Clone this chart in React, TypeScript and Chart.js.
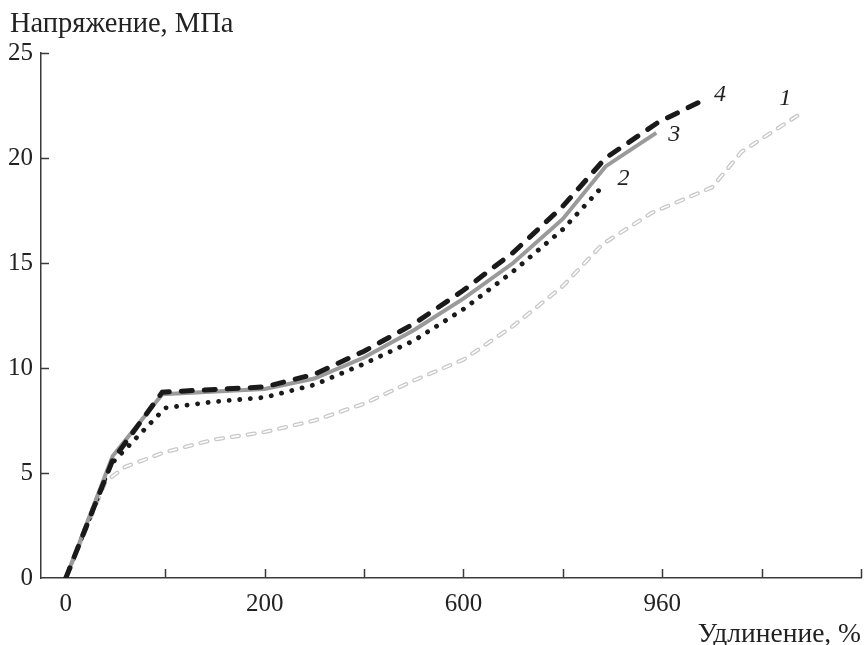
import React, { useEffect, useRef } from "react";
import { Chart, registerables } from "chart.js";

Chart.register(...registerables);

// X positions are in tick-index units (axis ticks 0..8, some labelled)
const xTickValues = [0, 1, 2, 3, 4, 5, 6, 7, 8];
const xTickLabels = ["0", "", "200", "", "600", "", "960", "", ""];
const yTickValues = [0, 5, 10, 15, 20, 25];

const yTitle = "Напряжение, МПа";
const xTitle = "Удлинение, %";

// Curve 1 (light hollow dashes)
const s1x = [0, 0.4, 0.6, 1, 1.5, 2, 2.5, 3, 3.5, 4, 4.5, 5, 5.4, 5.9, 6.5, 6.8, 7.42];
const s1y = [0, 4.6, 5.3, 6.0, 6.6, 6.95, 7.5, 8.3, 9.4, 10.4, 12.0, 13.9, 15.9, 17.4, 18.6, 20.3, 22.2];
// Curve 2 (black dotted)
const s2x = [0, 0.45, 1, 1.5, 2, 2.5, 3, 3.5, 4, 4.5, 5, 5.39];
const s2y = [0, 5.4, 8.1, 8.4, 8.6, 9.2, 10.2, 11.3, 12.8, 14.6, 16.6, 18.6];
// Curve 3 (gray solid)
const s3x = [0, 0.47, 0.97, 2, 2.5, 3, 3.5, 4, 4.5, 5, 5.43, 5.94];
const s3y = [0, 5.8, 8.75, 9.0, 9.5, 10.5, 11.8, 13.3, 15.0, 17.1, 19.6, 21.2];
// Curve 4 (black dashed)
const s4x = [0, 0.47, 0.97, 2, 2.5, 3, 3.5, 4, 4.5, 5, 5.43, 5.96, 6.39];
const s4y = [0, 5.6, 8.85, 9.1, 9.7, 10.8, 12.1, 13.7, 15.5, 17.7, 20.0, 21.7, 22.7];

const curveLabels = ["1", "2", "3", "4"];

const FONT = "'Liberation Serif', 'Times New Roman', serif";
const toPts = (xs: number[], ys: number[]) => xs.map((x, i) => ({ x, y: ys[i] }));

export default function App() {
  const ref = useRef<HTMLCanvasElement | null>(null);

  useEffect(() => {
    if (!ref.current) return;

    const decor = {
      id: "decor",
      afterDraw(chart: any) {
        const { ctx, chartArea, scales } = chart;
        const xs = scales.x;
        const ys = scales.y;
        ctx.save();
        ctx.strokeStyle = "#3a3a3a";
        ctx.lineWidth = 1.5;
        ctx.beginPath();
        xTickValues.forEach((v) => {
          if (v === 0) return;
          const px = Math.round(xs.getPixelForValue(v)) + 0.5;
          ctx.moveTo(px, chartArea.bottom);
          ctx.lineTo(px, chartArea.bottom - 9);
        });
        yTickValues.forEach((v) => {
          if (v === 0) return;
          const py = Math.round(ys.getPixelForValue(v)) + 0.5;
          ctx.moveTo(chartArea.left, py);
          ctx.lineTo(chartArea.left + 8, py);
        });
        ctx.stroke();

        ctx.fillStyle = "#222";
        ctx.textBaseline = "alphabetic";
        ctx.textAlign = "left";
        ctx.font = `28.5px ${FONT}`;
        ctx.fillText(yTitle, 10, 32);
        ctx.textAlign = "right";
        ctx.font = `27.5px ${FONT}`;
        ctx.fillText(xTitle, chartArea.right, 642);

        // curve number labels
        ctx.font = `italic 24px ${FONT}`;
        ctx.textAlign = "center";
        ctx.textBaseline = "middle";
        const specs = [
          { ds: 0, dx: -18, dy: -13 },
          { ds: 2, dx: 22, dy: -9 },
          { ds: 3, dx: 18, dy: 2 },
          { ds: 4, dx: 19, dy: -7 },
        ];
        specs.forEach((s, i) => {
          const meta = chart.getDatasetMeta(s.ds);
          const last = meta.data[meta.data.length - 1];
          ctx.fillText(curveLabels[i], last.x + s.dx, last.y + s.dy);
        });
        ctx.restore();
      },
    };

    const chart = new Chart(ref.current, {
      type: "line",
      data: {
        datasets: [
          {
            label: "1",
            data: toPts(s1x, s1y),
            borderColor: "#c8c8c8",
            borderWidth: 4.2,
            borderDash: [7, 9],
            borderCapStyle: "round",
            pointRadius: 0,
            tension: 0,
            order: 5,
          },
          {
            label: "1i",
            data: toPts(s1x, s1y),
            borderColor: "#ffffff",
            borderWidth: 1.6,
            borderDash: [7, 9],
            borderCapStyle: "round",
            pointRadius: 0,
            tension: 0,
            order: 4,
          },
          {
            label: "2",
            data: toPts(s2x, s2y),
            borderColor: "#1a1a1a",
            borderWidth: 4.8,
            borderDash: [0.1, 10.5],
            borderCapStyle: "round",
            pointRadius: 0,
            tension: 0,
            order: 3,
          },
          {
            label: "3",
            data: toPts(s3x, s3y),
            borderColor: "#9a9a9a",
            borderWidth: 4,
            pointRadius: 0,
            tension: 0,
            order: 2,
          },
          {
            label: "4",
            data: toPts(s4x, s4y),
            borderColor: "#1a1a1a",
            borderWidth: 5,
            borderDash: [11, 12],
            borderCapStyle: "round",
            pointRadius: 0,
            tension: 0,
            order: 1,
          },
        ],
      },
      options: {
        animation: false,
        responsive: false,
        devicePixelRatio: 1,
        layout: { padding: { left: 0, right: 3, top: 53, bottom: 0 } },
        plugins: { legend: { display: false }, tooltip: { enabled: false } },
        scales: {
          x: {
            type: "linear",
            min: -0.25,
            max: 8,
            afterBuildTicks: (scale: any) => {
              scale.ticks = xTickValues.map((v) => ({ value: v }));
            },
            afterFit: (scale: any) => {
              scale.height = 67;
              scale.paddingLeft = 0;
              scale.paddingRight = 0;
            },
            grid: { display: false, drawTicks: false },
            border: { display: true, color: "#3a3a3a", width: 1.5 },
            ticks: {
              autoSkip: false,
              maxRotation: 0,
              padding: 11,
              color: "#222",
              font: { family: FONT, size: 25 },
              callback: (v: any) => {
                const i = xTickValues.indexOf(Number(v));
                return i >= 0 ? xTickLabels[i] : "";
              },
            },
          },
          y: {
            type: "linear",
            min: 0,
            max: 25,
            afterBuildTicks: (scale: any) => {
              scale.ticks = yTickValues.map((v) => ({ value: v }));
            },
            afterFit: (scale: any) => {
              scale.width = 41;
              scale.paddingTop = 0;
              scale.paddingBottom = 0;
            },
            grid: { display: false, drawTicks: false },
            border: { display: true, color: "#3a3a3a", width: 1.5 },
            ticks: {
              padding: 8,
              color: "#222",
              font: { family: FONT, size: 25 },
            },
          },
        },
      },
      plugins: [decor],
    } as any);

    return () => chart.destroy();
  }, []);

  return (
    <div style={{ position: "absolute", left: 0, top: 0, width: 864, height: 645, background: "#fff" }}>
      <canvas ref={ref} width={864} height={645} style={{ width: 864, height: 645 }} />
    </div>
  );
}
